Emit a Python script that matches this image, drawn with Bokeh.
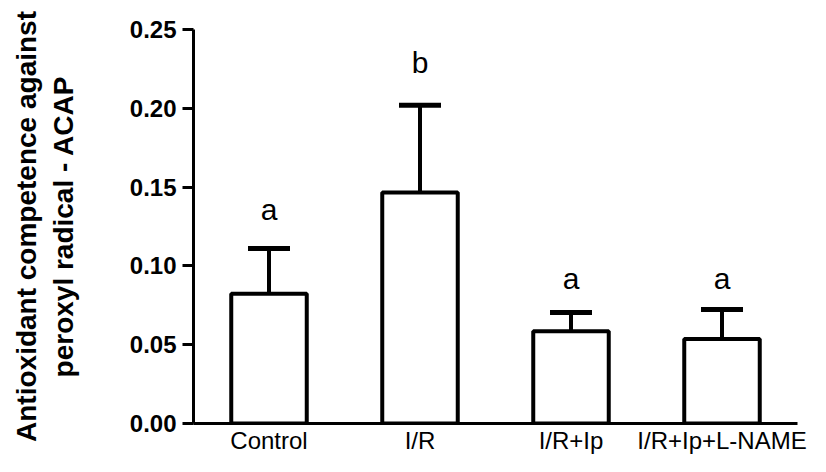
from bokeh.plotting import figure
from bokeh.models import FactorRange, Range1d, ColumnDataSource, Whisker, TeeHead, PrintfTickFormatter
from bokeh.core.properties import value
from bokeh.embed import file_html
from bokeh.resources import INLINE

groups = ["Control", "I/R", "I/R+Ip", "I/R+Ip+L-NAME"]
means = [0.0823, 0.1465, 0.0586, 0.0536]
upper = [0.111, 0.202, 0.0704, 0.0723]
letters = ["a", "b", "a", "a"]
letter_y = [0.136, 0.229, 0.092, 0.092]
y_ticks = [0.0, 0.05, 0.10, 0.15, 0.20, 0.25]

src = ColumnDataSource(dict(g=groups, m=means, u=upper, t=letters, ty=letter_y))

p = figure(x_range=FactorRange(factors=groups, range_padding=0),
           y_range=Range1d(0, 0.25),
           width=810, height=456, output_backend="svg", toolbar_location=None,
           min_border_left=193, min_border_right=13, min_border_top=29, min_border_bottom=26)
p.background_fill_color = "white"
p.outline_line_color = None
p.grid.visible = False

p.vbar(x="g", top="m", width=0.5, bottom=0, source=src,
       fill_color="white", line_color="black", line_width=4)

w = Whisker(base="g", lower="m", upper="u", source=src, dimension="height",
            line_color="black", line_width=4,
            upper_head=TeeHead(size=42, line_color="black", line_width=5),
            lower_head=None)
p.add_layout(w)

p.text(x="g", y="ty", text="t", source=src, text_align="center", text_baseline="alphabetic",
       text_font=value("Liberation Sans"), text_font_size="30px", text_color="black")

ya = p.yaxis[0]
ya.ticker = y_ticks
ya.formatter = PrintfTickFormatter(format="%.2f")
ya.axis_line_width = 3
ya.major_tick_line_width = 3
ya.major_tick_out = 11
ya.major_tick_in = 0
ya.minor_tick_line_color = None
ya.major_label_standoff = 6
ya.major_label_text_font = "Liberation Sans"
ya.major_label_text_font_style = "bold"
ya.major_label_text_font_size = "24px"
ya.major_label_text_color = "black"
ya.axis_label = "Antioxidant competence against\nperoxyl radical - ACAP"
ya.axis_label_text_font = "Liberation Sans"
ya.axis_label_text_font_style = "bold"
ya.axis_label_text_font_size = "28px"
ya.axis_label_text_color = "black"
ya.axis_label_standoff = 48

xa = p.xaxis[0]
xa.axis_line_width = 3
xa.major_tick_line_color = None
xa.minor_tick_line_color = None
xa.major_tick_out = 0
xa.major_tick_in = 0
xa.major_label_standoff = 3
xa.major_label_text_font = "Liberation Sans"
xa.major_label_text_font_size = "24px"
xa.major_label_text_color = "black"

open("out.html", "w").write(file_html(p, INLINE))
